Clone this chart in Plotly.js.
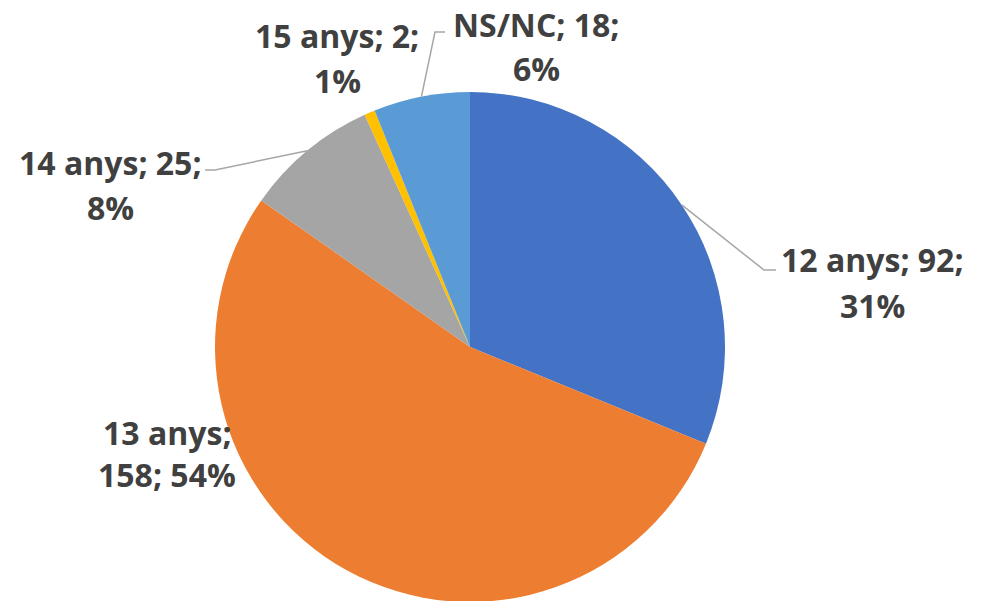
<!DOCTYPE html>
<html>
<head>
<meta charset="utf-8">
<script src="https://cdn.plot.ly/plotly-3.0.1.min.js"></script>
<style>
html,body{margin:0;padding:0;overflow:hidden;background:#fff;}
#chart{width:981px;height:700px;}
</style>
</head>
<body>
<div id="chart"></div>
<script>
// Data
const categories = ["12 anys", "13 anys", "14 anys", "15 anys", "NS/NC"];
const counts = [92, 158, 25, 2, 18];
const percents = ["31%", "54%", "8%", "1%", "6%"];
const colors = ["#4472C4", "#ED7D31", "#A5A5A5", "#FFC000", "#5B9BD5"];

// Layout helpers (pixel -> paper)
const W = 981, H = 700;
const px = x => x / W;
const py = y => 1 - y / H;
const CX = 470, CY = 347, R = 255;

// Label placements (layout only): centre x, centre y of each text line
const labelPos = [
  {x: 872, y1: 258, y2: 304, split: 2, leader: [[764, 270], [776, 270]]},
  {x: 167, y1: 431, y2: 473, split: 1, leader: null},
  {x: 110, y1: 161, y2: 206, split: 2, leader: [[215, 170], [205, 170]]},
  {x: 337, y1: 34, y2: 79, split: 2, leader: null},
  {x: 536, y1: 24, y2: 68, split: 2, leader: [[435, 32], [445, 32]]}
];

const total = counts.reduce((a, b) => a + b, 0);
let cum = 0;
const annotations = [];
const shapes = [];
const font = {family: "Open Sans, sans-serif", size: 32, color: "#404040", weight: "bold"};
counts.forEach((v, i) => {
  const mid = (cum + v / 2) / total * 2 * Math.PI;
  cum += v;
  const L = labelPos[i];
  const parts = [categories[i] + ";", counts[i] + ";", percents[i]];
  const line1 = parts.slice(0, L.split).join(" ");
  const line2 = parts.slice(L.split).join(" ");
  [[line1, L.y1], [line2, L.y2]].forEach(([t, y]) => {
    annotations.push({
      xref: "paper", yref: "paper", x: px(L.x), y: py(y + 1),
      xanchor: "center", yanchor: "middle", showarrow: false,
      text: t, font: font, align: "center"
    });
  });
  if (L.leader) {
    const tx = CX + R * Math.sin(mid), ty = CY - R * Math.cos(mid);
    let d = "M " + px(tx) + " " + py(ty);
    L.leader.forEach(p => { d += " L " + px(p[0]) + " " + py(p[1]); });
    shapes.push({type: "path", xref: "paper", yref: "paper", path: d,
      line: {color: "#A6A6A6", width: 1.5}, layer: "above"});
  }
});

const trace = {
  type: "pie",
  labels: categories,
  values: counts,
  sort: false,
  direction: "clockwise",
  rotation: 0,
  textinfo: "none",
  hoverinfo: "label+value+percent",
  marker: {colors: colors, line: {width: 0}},
  domain: {x: [px(CX - R), px(CX + R)], y: [py(CY + R), py(CY - R)]},
  showlegend: false
};

const layout = {
  width: W, height: H,
  margin: {l: 0, r: 0, t: 0, b: 0},
  paper_bgcolor: "#ffffff",
  showlegend: false,
  annotations: annotations,
  shapes: shapes
};

Plotly.newPlot("chart", [trace], layout, {displayModeBar: false, staticPlot: true});
</script>
</body>
</html>
